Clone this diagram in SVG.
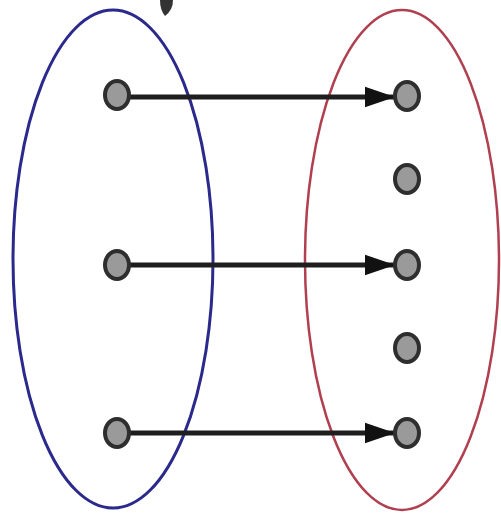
<svg xmlns="http://www.w3.org/2000/svg" width="501" height="517" viewBox="0 0 501 517">
<style>
.node{fill:#9a9a9a;stroke:#2e2e2e;stroke-width:4}
.edge{stroke:#1e1e1e;stroke-width:5;fill:none}
</style>
<defs>
<marker id="ah" viewBox="0 0 10 10" refX="10" refY="5" markerWidth="6" markerHeight="6" markerUnits="strokeWidth" orient="auto">
<path d="M0,1.6 L10,5 L0,8.4 z" fill="#111"/>
</marker>
</defs>
<rect width="501" height="517" fill="#ffffff"/>
<g id="setA"><ellipse cx="113" cy="259" rx="100" ry="249" fill="none" stroke="#2b2a8c" stroke-width="3"/></g>
<g id="setB"><ellipse cx="402" cy="260" rx="97" ry="250" fill="none" stroke="#b04050" stroke-width="2.5"/></g>
<g id="mark"><path d="M160,0 L173,0 Q173,10 165,16 Q160,10 160,0 z" fill="#333"/></g>
<g id="connectors">
<line class="edge" x1="130" y1="97" x2="395" y2="97" stroke="#444" marker-end="url(#ah)"/>
<line class="edge" x1="130" y1="265" x2="395" y2="265" marker-end="url(#ah)"/>
<line class="edge" x1="130" y1="433" x2="395" y2="433" marker-end="url(#ah)"/>
</g>
<g id="a1"><ellipse class="node" cx="117" cy="95" rx="12" ry="14"/></g>
<g id="a2"><ellipse class="node" cx="117" cy="265" rx="12" ry="14"/></g>
<g id="a3"><ellipse class="node" cx="117" cy="433" rx="12" ry="14"/></g>
<g id="b1"><ellipse class="node" cx="407" cy="96" rx="12" ry="14"/></g>
<g id="b2"><ellipse class="node" cx="407" cy="179" rx="12" ry="14"/></g>
<g id="b3"><ellipse class="node" cx="407" cy="265" rx="12" ry="14"/></g>
<g id="b4"><ellipse class="node" cx="407" cy="348" rx="12" ry="14"/></g>
<g id="b5"><ellipse class="node" cx="407" cy="433" rx="12" ry="14"/></g>
</svg>
